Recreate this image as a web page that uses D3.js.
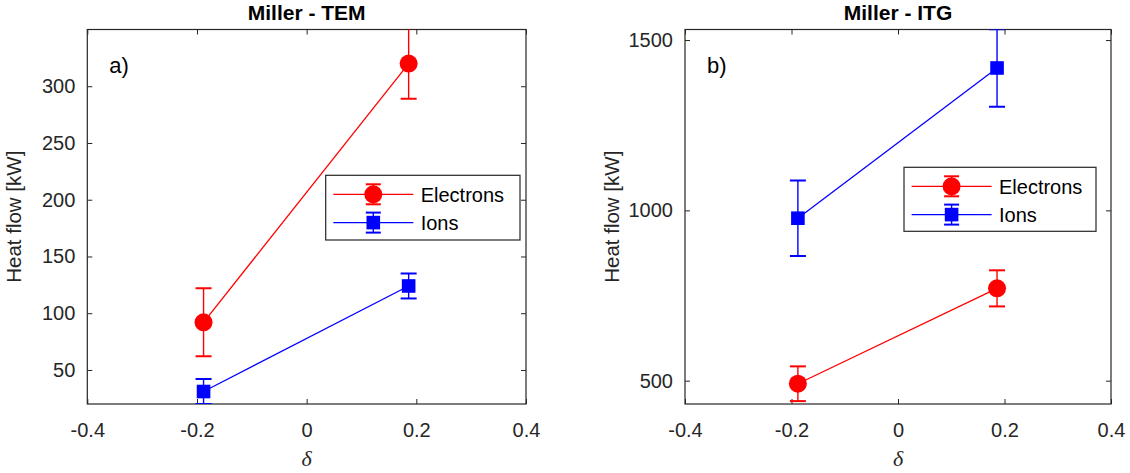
<!DOCTYPE html>
<html>
<head>
<meta charset="utf-8">
<script src="https://cdn.jsdelivr.net/npm/d3@7"></script>
<style>
  html, body { margin: 0; padding: 0; background: #fff; }
  svg { display: block; }
</style>
</head>
<body>
<svg id="chart" width="1130" height="473"></svg>
<script>
// ---- data ----
const deltas = [-0.188, 0.186];
const xTicks = [-0.4, -0.2, 0, 0.2, 0.4];

const temElectrons = [92, 320];
const temElectronsErr = [30, 31];
const temIons = [31, 124];
const temIonsErr = [11, 11];
const temYTicks = [50, 100, 150, 200, 250, 300];
const temYDomain = [20, 350];

const itgElectrons = [491, 771];
const itgElectronsErr = [51, 53];
const itgIons = [977, 1418];
const itgIonsErr = [111, 114];
const itgYTicks = [500, 1000, 1500];
const itgYDomain = [431.5, 1531];

const seriesNames = ["Electrons", "Ions"];
const titles = ["Miller - TEM", "Miller - ITG"];
const panelLabels = ["a)", "b)"];
const yLabel = "Heat flow [kW]";
const xLabel = "δ";

// ---- layout ----
const svg = d3.select("#chart");
const axisColor = "#262626";
const font = "'Liberation Sans', Arial, Helvetica, sans-serif";
const colors = ["#ff0000", "#0000ff"];
const fmt = d => String(d);

const panels = [
  { left: 87.3, right: 526, top: 29.5, bottom: 404,
    series: [[temElectrons, temElectronsErr], [temIons, temIonsErr]],
    yTicks: temYTicks, yDomain: temYDomain,
    legend: { x: 325.7, y: 175.3, w: 194.3, h: 64.7 } },
  { left: 685, right: 1111, top: 29.5, bottom: 404,
    series: [[itgElectrons, itgElectronsErr], [itgIons, itgIonsErr]],
    yTicks: itgYTicks, yDomain: itgYDomain,
    legend: { x: 904, y: 167.3, w: 192, h: 64 } }
];

function drawMarker(g, type, cx, cy, color) {
  if (type === 0) {
    g.append("circle").attr("cx", cx).attr("cy", cy).attr("r", 9).attr("fill", color);
  } else {
    g.append("rect").attr("x", cx - 6.8).attr("y", cy - 6.8)
      .attr("width", 13.6).attr("height", 13.6).attr("fill", color);
  }
}

function drawErr(g, cx, y1, y2, color, capW) {
  g.append("line").attr("x1", cx).attr("x2", cx).attr("y1", y1).attr("y2", y2)
    .attr("stroke", color).attr("stroke-width", 1.4);
  [y1, y2].forEach(yy => {
    g.append("line").attr("x1", cx - capW / 2).attr("x2", cx + capW / 2)
      .attr("y1", yy).attr("y2", yy).attr("stroke", color).attr("stroke-width", 2);
  });
}

panels.forEach((p, i) => {
  const x = d3.scaleLinear().domain([-0.4, 0.4]).range([p.left, p.right]);
  const y = d3.scaleLinear().domain(p.yDomain).range([p.bottom, p.top]);
  const g = svg.append("g");

  const clipId = "clip" + i;
  svg.append("defs").append("clipPath").attr("id", clipId)
    .append("rect").attr("x", p.left).attr("y", p.top)
    .attr("width", p.right - p.left).attr("height", p.bottom - p.top);

  // axes
  const styleAxis = sel => {
    sel.select(".domain").remove();
    sel.selectAll(".tick line").attr("stroke", axisColor).attr("stroke-width", 1);
    sel.selectAll(".tick text").attr("fill", axisColor)
      .style("font-family", font).style("font-size", "20px");
  };
  g.append("g").attr("transform", `translate(0,${p.bottom})`)
    .call(d3.axisBottom(x).tickValues(xTicks).tickFormat(fmt).tickSizeInner(-5).tickSizeOuter(0).tickPadding(19))
    .call(styleAxis);
  g.append("g").attr("transform", `translate(0,${p.top})`)
    .call(d3.axisTop(x).tickValues(xTicks).tickFormat("").tickSizeInner(-5).tickSizeOuter(0))
    .call(styleAxis);
  g.append("g").attr("transform", `translate(${p.left},0)`)
    .call(d3.axisLeft(y).tickValues(p.yTicks).tickFormat(fmt).tickSizeInner(-5).tickSizeOuter(0).tickPadding(12))
    .call(styleAxis);
  g.append("g").attr("transform", `translate(${p.right},0)`)
    .call(d3.axisRight(y).tickValues(p.yTicks).tickFormat("").tickSizeInner(-5).tickSizeOuter(0))
    .call(styleAxis);
  g.append("rect").attr("x", p.left).attr("y", p.top)
    .attr("width", p.right - p.left).attr("height", p.bottom - p.top)
    .attr("fill", "none").attr("stroke", axisColor).attr("stroke-width", 1.2);

  // data
  const dg = g.append("g").attr("clip-path", `url(#${clipId})`);
  p.series.forEach((s, si) => {
    const [vals, errs] = s;
    const color = colors[si];
    const pts = deltas.map((d, k) => [x(d), y(vals[k])]);
    dg.append("path").attr("d", d3.line()(pts)).attr("fill", "none")
      .attr("stroke", color).attr("stroke-width", 1.3);
    deltas.forEach((d, k) => {
      drawErr(dg, x(d), y(vals[k] + errs[k]), y(vals[k] - errs[k]), color, 16);
    });
  });
  p.series.forEach((s, si) => {
    const [vals] = s;
    deltas.forEach((d, k) => drawMarker(g, si, x(d), y(vals[k]), colors[si]));
  });

  // title
  g.append("text").attr("x", (p.left + p.right) / 2).attr("y", 20)
    .attr("text-anchor", "middle").style("font-family", font)
    .style("font-size", "21px").style("font-weight", "bold").attr("fill", "#000")
    .text(titles[i]);

  // panel label
  g.append("text").attr("x", p.left + 22).attr("y", 73)
    .style("font-family", font).style("font-size", "22px").attr("fill", "#000")
    .text(panelLabels[i]);

  // y label
  const ylx = p.left - 66;
  const yly = (p.top + p.bottom) / 2;
  g.append("text").attr("transform", `translate(${ylx},${yly}) rotate(-90)`)
    .attr("text-anchor", "middle").style("font-family", font)
    .style("font-size", "20.5px").attr("fill", axisColor).text(yLabel);

  // x label
  g.append("text").attr("x", (p.left + p.right) / 2).attr("y", 466)
    .attr("text-anchor", "middle").style("font-family", "'Liberation Serif', 'DejaVu Serif', serif")
    .style("font-style", "italic").style("font-size", "22px").attr("fill", axisColor).text(xLabel);

  // legend
  const L = p.legend;
  const lg = g.append("g");
  lg.append("rect").attr("x", L.x).attr("y", L.y).attr("width", L.w).attr("height", L.h)
    .attr("fill", "#fff").attr("stroke", axisColor).attr("stroke-width", 1.2);
  seriesNames.forEach((name, si) => {
    const ly = L.y + 19 + si * 28.3;
    const x1 = L.x + 7.6, x2 = L.x + 87.6, mx = L.x + 47.6;
    lg.append("line").attr("x1", x1).attr("x2", x2).attr("y1", ly).attr("y2", ly)
      .attr("stroke", colors[si]).attr("stroke-width", 1.3);
    drawErr(lg, mx, ly - 10, ly + 10, colors[si], 15);
    drawMarker(lg, si, mx, ly, colors[si]);
    lg.append("text").attr("x", L.x + 95).attr("y", ly + 7.5)
      .style("font-family", font).style("font-size", "20px").attr("fill", "#000")
      .text(name);
  });
});
</script>
</body>
</html>
